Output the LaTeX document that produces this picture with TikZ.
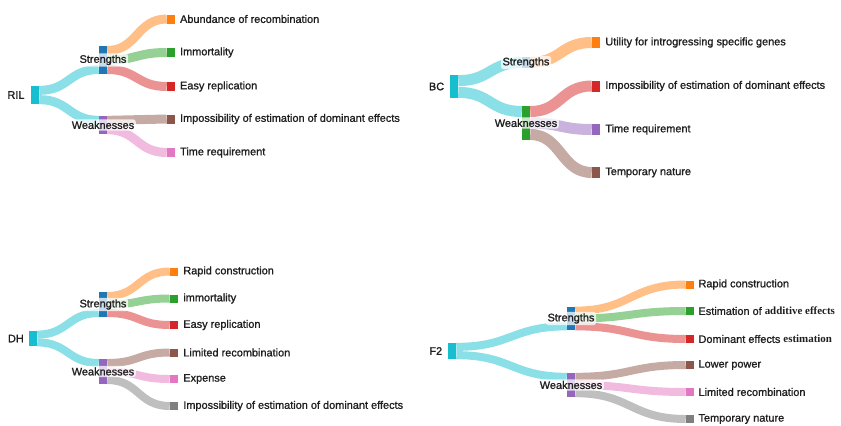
\documentclass[tikz,border=0pt]{standalone}
\usepackage{fontspec}
\setmainfont{Liberation Sans}[BoldFont={Liberation Sans}, BoldFeatures={FakeBold=1.2}]
\newfontfamily\timesbf{Liberation Serif}
\usetikzlibrary{positioning,calc}

\definecolor{skcyan}{HTML}{17BECF}
\definecolor{skblue}{HTML}{1F77B4}
\definecolor{skorange}{HTML}{FF7F0E}
\definecolor{skgreen}{HTML}{2CA02C}
\definecolor{skred}{HTML}{D62728}
\definecolor{skpurple}{HTML}{9467BD}
\definecolor{skbrown}{HTML}{8C564B}
\definecolor{skpink}{HTML}{E377C2}
\definecolor{skgray}{HTML}{7F7F7F}

\tikzset{
  bar/.style={rectangle, inner sep=0pt, minimum width=6pt},
  flow/.style={line width=#1},
  flow/.default=6pt,
  lab/.style={fill=white, fill opacity=.75, text opacity=1, rounded corners=2pt, inner sep=1.2pt},
  txt/.style={inner sep=0pt},
}

\begin{document}
\begin{tikzpicture}[x=.75pt, y=-.75pt, font=\fontsize{8.2}{9.5}\selectfont\bfseries, text=black!88]
\useasboundingbox (0,0) rectangle (841,425);

% RIL
\node[bar, fill=skcyan, minimum height=13.5pt] (ril) at (35,95) {};
\node[bar, fill=skblue, minimum height=21pt] (rilS) at (103,60) {};
\node[bar, fill=skpurple, minimum height=13.5pt] (rilW) at (103,125) {};
\node[bar, fill=skorange, minimum height=6.75pt] (ril1) at (171,19) {};
\node[bar, fill=skgreen, minimum height=6.75pt] (ril2) at (171,52.5) {};
\node[bar, fill=skred, minimum height=6.75pt] (ril3) at (171,86.5) {};
\node[bar, fill=skbrown, minimum height=6.75pt] (ril4) at (171,119) {};
\node[bar, fill=skpink, minimum height=6.75pt] (ril5) at (171,152.5) {};

\draw[flow=6.75pt, skcyan!50] ($(ril.north east)!.25!(ril.south east)$) .. controls +(30,0) and +(-30,0) .. ($(rilS.north west)!.833!(rilS.south west)$);
\draw[flow=6.75pt, skcyan!50] ($(ril.north east)!.75!(ril.south east)$) .. controls +(30,0) and +(-30,0) .. ($(rilW.north west)!.25!(rilW.south west)$);
\draw[flow=6.75pt, skorange!50] ($(rilS.north east)!.167!(rilS.south east)$) .. controls +(30,0) and +(-30,0) .. (ril1.west);
\draw[flow=6.75pt, skgreen!50] (rilS.east) .. controls +(30,0) and +(-30,0) .. (ril2.west);
\draw[flow=6.75pt, skred!50] ($(rilS.north east)!.833!(rilS.south east)$) .. controls +(30,0) and +(-30,0) .. (ril3.west);
\draw[flow=6.75pt, skbrown!50] ($(rilW.north east)!.25!(rilW.south east)$) .. controls +(30,0) and +(-30,0) .. (ril4.west);
\draw[flow=6.75pt, skpink!50] ($(rilW.north east)!.75!(rilW.south east)$) .. controls +(30,0) and +(-30,0) .. (ril5.west);

\node[txt, left=4.5pt of ril] (rilt) {RIL};
\node[lab] (rilSt) at (rilS) {Strengths};
\node[lab] (rilWt) at (rilW) {Weaknesses};
\node[txt, right=3.4pt of ril1] (ril1t) {Abundance of recombination};
\node[txt, right=3.4pt of ril2] (ril2t) {Immortality};
\node[txt, right=3.4pt of ril3] (ril3t) {Easy replication};
\node[txt, right=3.4pt of ril4] (ril4t) {Impossibility of estimation of dominant effects};
\node[txt, right=3.4pt of ril5] (ril5t) {Time requirement};

% BC
\node[bar, fill=skcyan, minimum height=17.25pt] (bc) at (454,86.5) {};
\node[bar, fill=skblue, minimum height=8.25pt] (bcS) at (526,62.5) {};
\node[bar, fill=skgreen, minimum height=25.5pt] (bcW) at (526,123) {};
\node[bar, fill=skorange, minimum height=8.25pt] (bc1) at (596,42.5) {};
\node[bar, fill=skred, minimum height=8.25pt] (bc2) at (596,86) {};
\node[bar, fill=skpurple, minimum height=8.25pt] (bc3) at (596,129.5) {};
\node[bar, fill=skbrown, minimum height=8.25pt] (bc4) at (596,172.5) {};

\draw[flow=8.25pt, skcyan!50] ($(bc.north east)!.25!(bc.south east)$) .. controls +(32,0) and +(-32,0) .. (bcS.west);
\draw[flow=8.25pt, skcyan!50] ($(bc.north east)!.75!(bc.south east)$) .. controls +(32,0) and +(-32,0) .. ($(bcW.north west)!.167!(bcW.south west)$);
\draw[flow=8.25pt, skorange!50] (bcS.east) .. controls +(31,0) and +(-31,0) .. (bc1.west);
\draw[flow=8.25pt, skred!50] ($(bcW.north east)!.167!(bcW.south east)$) .. controls +(31,0) and +(-31,0) .. (bc2.west);
\draw[flow=8.25pt, skpurple!50] (bcW.east) .. controls +(31,0) and +(-31,0) .. (bc3.west);
\draw[flow=8.25pt, skbrown!50] ($(bcW.north east)!.833!(bcW.south east)$) .. controls +(31,0) and +(-31,0) .. (bc4.west);

\node[txt, left=4pt of bc] (bct) {BC};
\node[lab] (bcSt) at (bcS) {Strengths};
\node[lab] (bcWt) at (bcW) {Weaknesses};
\node[txt, right=3.6pt of bc1] (bc1t) {Utility for introgressing specific genes};
\node[txt, right=3.6pt of bc2] (bc2t) {Impossibility of estimation of dominant effects};
\node[txt, right=3.6pt of bc3] (bc3t) {Time requirement};
\node[txt, right=3.6pt of bc4] (bc4t) {Temporary nature};

% DH
\node[bar, fill=skcyan, minimum height=11.25pt] (dh) at (33,338.5) {};
\node[bar, fill=skblue, minimum height=18.75pt] (dhS) at (103,304.5) {};
\node[bar, fill=skpurple, minimum height=18.75pt] (dhW) at (103,371.5) {};
\node[bar, fill=skorange, minimum height=6pt] (dh1) at (174,271.5) {};
\node[bar, fill=skgreen, minimum height=6pt] (dh2) at (174,298.5) {};
\node[bar, fill=skred, minimum height=6pt] (dh3) at (174,325) {};
\node[bar, fill=skbrown, minimum height=6pt] (dh4) at (174,352.5) {};
\node[bar, fill=skpink, minimum height=6pt] (dh5) at (174,379) {};
\node[bar, fill=skgray, minimum height=6pt] (dh6) at (174,406) {};

\draw[flow, skcyan!50] ($(dh.north east)!.25!(dh.south east)$) .. controls +(31,0) and +(-31,0) .. ($(dhS.north west)!.833!(dhS.south west)$);
\draw[flow, skcyan!50] ($(dh.north east)!.75!(dh.south east)$) .. controls +(31,0) and +(-31,0) .. ($(dhW.north west)!.167!(dhW.south west)$);
\draw[flow, skorange!50] ($(dhS.north east)!.167!(dhS.south east)$) .. controls +(32,0) and +(-32,0) .. (dh1.west);
\draw[flow, skgreen!50] (dhS.east) .. controls +(32,0) and +(-32,0) .. (dh2.west);
\draw[flow, skred!50] ($(dhS.north east)!.833!(dhS.south east)$) .. controls +(32,0) and +(-32,0) .. (dh3.west);
\draw[flow, skbrown!50] ($(dhW.north east)!.167!(dhW.south east)$) .. controls +(32,0) and +(-32,0) .. (dh4.west);
\draw[flow, skpink!50] (dhW.east) .. controls +(32,0) and +(-32,0) .. (dh5.west);
\draw[flow, skgray!50] ($(dhW.north east)!.833!(dhW.south east)$) .. controls +(32,0) and +(-32,0) .. (dh6.west);

\node[txt, left=3.5pt of dh] (dht) {DH};
\node[lab] (dhSt) at (dhS) {Strengths};
\node[lab] (dhWt) at (dhW) {Weaknesses};
\node[txt, right=3.6pt of dh1] (dh1t) {Rapid construction};
\node[txt, right=3.6pt of dh2] (dh2t) {immortality};
\node[txt, right=3.6pt of dh3] (dh3t) {Easy replication};
\node[txt, right=3.6pt of dh4] (dh4t) {Limited recombination};
\node[txt, right=3.6pt of dh5] (dh5t) {Expense};
\node[txt, right=3.6pt of dh6] (dh6t) {Impossibility of estimation of dominant effects};

% F2
\node[bar, fill=skcyan, minimum height=12pt] (ftwo) at (452,351) {};
\node[bar, fill=skblue, minimum height=17.25pt] (ftwoS) at (571,318.5) {};
\node[bar, fill=skpurple, minimum height=18pt] (ftwoW) at (571,385) {};
\node[bar, fill=skorange, minimum height=6pt] (ftwo1) at (690,284.5) {};
\node[bar, fill=skgreen, minimum height=6pt] (ftwo2) at (690,311) {};
\node[bar, fill=skred, minimum height=6pt] (ftwo3) at (690,339) {};
\node[bar, fill=skbrown, minimum height=6pt] (ftwo4) at (690,365) {};
\node[bar, fill=skpink, minimum height=6pt] (ftwo5) at (690,392) {};
\node[bar, fill=skgray, minimum height=6pt] (ftwo6) at (690,419) {};

\draw[flow, skcyan!50] ($(ftwo.north east)!.25!(ftwo.south east)$) .. controls +(55,0) and +(-55,0) .. ($(ftwoS.north west)!.833!(ftwoS.south west)$);
\draw[flow, skcyan!50] ($(ftwo.north east)!.75!(ftwo.south east)$) .. controls +(55,0) and +(-55,0) .. ($(ftwoW.north west)!.167!(ftwoW.south west)$);
\draw[flow, skorange!50] ($(ftwoS.north east)!.167!(ftwoS.south east)$) .. controls +(55,0) and +(-55,0) .. (ftwo1.west);
\draw[flow, skgreen!50] (ftwoS.east) .. controls +(55,0) and +(-55,0) .. (ftwo2.west);
\draw[flow, skred!50] ($(ftwoS.north east)!.833!(ftwoS.south east)$) .. controls +(55,0) and +(-55,0) .. (ftwo3.west);
\draw[flow, skbrown!50] ($(ftwoW.north east)!.167!(ftwoW.south east)$) .. controls +(55,0) and +(-55,0) .. (ftwo4.west);
\draw[flow, skpink!50] (ftwoW.east) .. controls +(55,0) and +(-55,0) .. (ftwo5.west);
\draw[flow, skgray!50] ($(ftwoW.north east)!.833!(ftwoW.south east)$) .. controls +(55,0) and +(-55,0) .. (ftwo6.west);

\node[txt, left=4pt of ftwo] (ftwot) {F2};
\node[lab] (ftwoSt) at (ftwoS) {Strengths};
\node[lab] (ftwoWt) at (ftwoW) {Weaknesses};
\node[txt, right=3pt of ftwo1] (ftwo1t) {Rapid construction};
\node[txt, right=3pt of ftwo2] (ftwo2t) {Estimation of {\timesbf\bfseries additive effects}};
\node[txt, right=3pt of ftwo3] (ftwo3t) {Dominant effects {\timesbf\bfseries estimation}};
\node[txt, right=3pt of ftwo4] (ftwo4t) {Lower power};
\node[txt, right=3pt of ftwo5] (ftwo5t) {Limited recombination};
\node[txt, right=3pt of ftwo6] (ftwo6t) {Temporary nature};
\end{tikzpicture}
\end{document}
